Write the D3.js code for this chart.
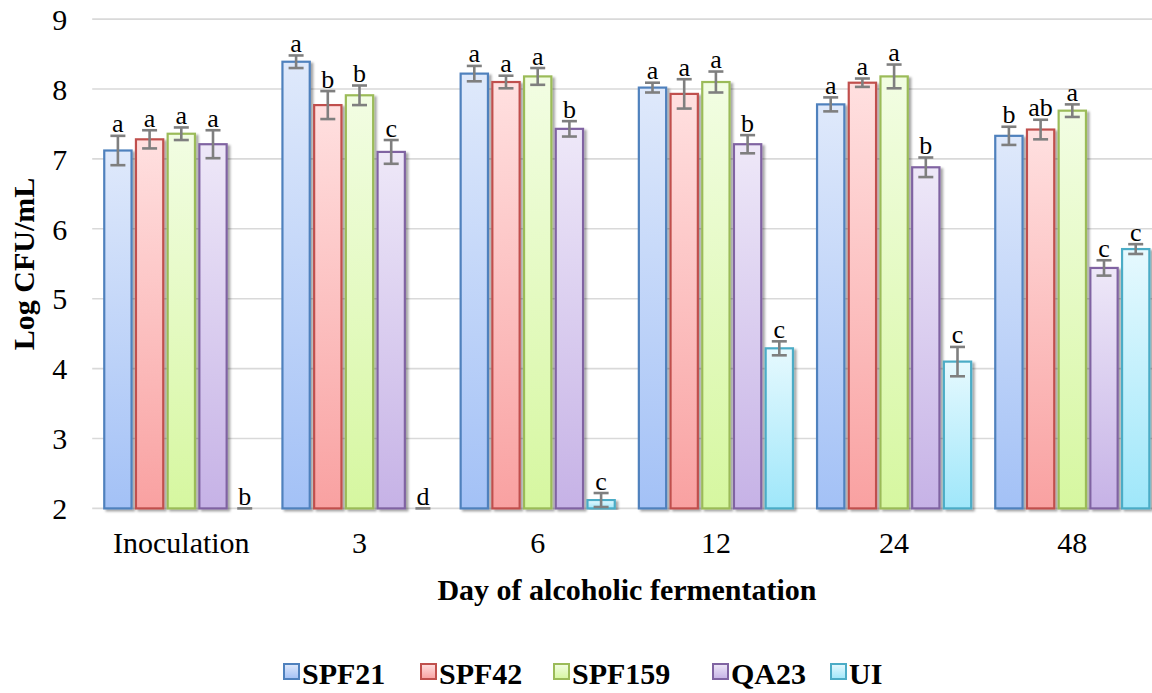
<!DOCTYPE html>
<html>
<head>
<meta charset="utf-8">
<script src="https://cdn.jsdelivr.net/npm/d3@7"></script>
<style>
  html, body { margin: 0; padding: 0; background: #fff; }
  svg { display: block; }
  text { font-family: "Liberation Serif", "Times New Roman", serif; fill: #000; }
</style>
</head>
<body>
<svg id="chart" width="1152" height="693"></svg>
<script>
// Days of fermentation shown on the x axis
const categories = ["Inoculation", "3", "6", "12", "24", "48"];
const seriesNames = ["SPF21", "SPF42", "SPF159", "QA23", "UI"];

// Mean population (Log CFU/mL) per strain and day
const SPF21  = [7.12, 8.39, 8.22, 8.02, 7.78, 7.33];
const SPF42  = [7.28, 7.77, 8.10, 7.93, 8.09, 7.42];
const SPF159 = [7.36, 7.91, 8.18, 8.10, 8.18, 7.69];
const QA23   = [7.21, 7.10, 7.43, 7.21, 6.88, 5.44];
const UI     = [2.00, 2.00, 2.12, 4.29, 4.10, 5.71];

// Standard deviations
const SPF21_sd  = [0.21, 0.09, 0.11, 0.07, 0.10, 0.13];
const SPF42_sd  = [0.13, 0.20, 0.09, 0.21, 0.06, 0.14];
const SPF159_sd = [0.09, 0.14, 0.12, 0.15, 0.17, 0.09];
const QA23_sd   = [0.20, 0.17, 0.11, 0.13, 0.14, 0.11];
const UI_sd     = [0.00, 0.00, 0.10, 0.10, 0.21, 0.07];

// Significance letters
const SPF21_sig  = ["a", "a", "a", "a", "a", "b"];
const SPF42_sig  = ["a", "b", "a", "a", "a", "ab"];
const SPF159_sig = ["a", "b", "a", "a", "a", "a"];
const QA23_sig   = ["a", "c", "b", "b", "b", "c"];
const UI_sig     = ["b", "d", "c", "c", "c", "c"];

const yTicks = [2, 3, 4, 5, 6, 7, 8, 9];

const values = [SPF21, SPF42, SPF159, QA23, UI];
const sds = [SPF21_sd, SPF42_sd, SPF159_sd, QA23_sd, UI_sd];
const sigs = [SPF21_sig, SPF42_sig, SPF159_sig, QA23_sig, UI_sig];

const styles = {
  SPF21:  { stroke: "#4f81bd", top: "#dfe9fb", bottom: "#a3c1f6" },
  SPF42:  { stroke: "#c0504d", top: "#ffe0e0", bottom: "#f9a1a1" },
  SPF159: { stroke: "#9bbb59", top: "#f2fde3", bottom: "#d6f7a0" },
  QA23:   { stroke: "#8064a2", top: "#eee8f8", bottom: "#c6b2e6" },
  UI:     { stroke: "#4bacc6", top: "#e6f9fe", bottom: "#9fe7fa" }
};

const svg = d3.select("#chart");
const defs = svg.append("defs");

seriesNames.forEach(s => {
  const g = defs.append("linearGradient")
    .attr("id", "grad-" + s)
    .attr("x1", 0).attr("y1", 0).attr("x2", 0).attr("y2", 1);
  g.append("stop").attr("offset", "0%").attr("stop-color", styles[s].top);
  g.append("stop").attr("offset", "100%").attr("stop-color", styles[s].bottom);
});

const shadow = defs.append("filter").attr("id", "barShadow")
  .attr("x", "-20%").attr("y", "-5%").attr("width", "150%").attr("height", "115%");
shadow.append("feDropShadow")
  .attr("dx", 2.5).attr("dy", 2).attr("stdDeviation", 1.3)
  .attr("flood-color", "#000").attr("flood-opacity", 0.35);

const plotLeft = 92.2, plotRight = 1161.4;
const x0 = d3.scaleBand().domain(categories).range([plotLeft, plotRight]);
const x1 = d3.scaleBand().domain(seriesNames).range([0, x0.bandwidth()])
  .paddingInner(0.139).paddingOuter(0.38);
const y = d3.scaleLinear().domain([2, 9]).range([508.4, 19.1]);

// Horizontal gridlines
svg.append("g").selectAll("line").data(yTicks).join("line")
  .attr("x1", plotLeft).attr("x2", 1152)
  .attr("y1", d => y(d)).attr("y2", d => y(d))
  .attr("stroke", "#d9d9d9").attr("stroke-width", 1.6);

// Y axis tick labels
const yAxis = d3.axisLeft(y).tickValues(yTicks).tickSize(0).tickPadding(0).tickFormat(d3.format("d"));
const yg = svg.append("g").attr("transform", `translate(${plotLeft - 25},0)`).call(yAxis);
yg.select(".domain").remove();
yg.selectAll("text").attr("font-size", 30).attr("font-family", "Liberation Serif").attr("fill", "#000")
  .attr("dy", "0.34em");

// X axis category labels
const xAxis = d3.axisBottom(x0).tickSize(0).tickPadding(0);
const xg = svg.append("g").attr("transform", `translate(0,527)`).call(xAxis);
xg.select(".domain").remove();
xg.selectAll("text").attr("font-size", 30).attr("font-family", "Liberation Serif").attr("fill", "#000")
  .attr("dy", "0.85em");

// Bars
const groups = svg.append("g").selectAll("g").data(categories).join("g")
  .attr("transform", d => `translate(${x0(d)},0)`);

const cells = [];
categories.forEach((c, ci) => {
  seriesNames.forEach((s, si) => {
    cells.push({ cat: c, ci, s, v: values[si][ci], sd: sds[si][ci], sig: sigs[si][ci] });
  });
});

const barLayer = svg.append("g");
barLayer.selectAll("rect").data(cells.filter(d => d.v > 2)).join("rect")
  .attr("x", d => x0(d.cat) + x1(d.s))
  .attr("y", d => y(d.v))
  .attr("width", x1.bandwidth())
  .attr("height", d => y(2) - y(d.v))
  .attr("fill", d => `url(#grad-${d.s})`)
  .attr("stroke", d => styles[d.s].stroke)
  .attr("stroke-width", 2.2)
  .attr("filter", "url(#barShadow)");

// Error bars
const capHalf = 7.5;
const err = svg.append("g").attr("stroke", "#7f7f7f").attr("stroke-width", 2.6);
cells.forEach(d => {
  const cx = x0(d.cat) + x1(d.s) + x1.bandwidth() / 2;
  const yTop = y(d.v + d.sd), yBot = y(Math.max(2, d.v - d.sd));
  if (d.sd > 0) {
    err.append("line").attr("x1", cx).attr("x2", cx).attr("y1", yTop).attr("y2", yBot);
  }
  err.append("line").attr("x1", cx - capHalf).attr("x2", cx + capHalf).attr("y1", yTop).attr("y2", yTop);
  if (d.sd > 0 && d.v - d.sd > 2) {
    err.append("line").attr("x1", cx - capHalf).attr("x2", cx + capHalf).attr("y1", yBot).attr("y2", yBot);
  }
});

// Significance letters
svg.append("g").selectAll("text").data(cells).join("text")
  .attr("x", d => x0(d.cat) + x1(d.s) + x1.bandwidth() / 2)
  .attr("y", d => y(d.v + d.sd) - 3.5)
  .attr("text-anchor", "middle")
  .attr("font-size", 26)
  .text(d => d.sig);

// Axis titles
svg.append("text")
  .attr("transform", "translate(34,264) rotate(-90)")
  .attr("text-anchor", "middle")
  .attr("font-size", 30).attr("font-weight", "bold")
  .text("Log CFU/mL");

svg.append("text")
  .attr("x", 627).attr("y", 600)
  .attr("text-anchor", "middle")
  .attr("font-size", 30).attr("font-weight", "bold")
  .text("Day of alcoholic fermentation");

// Legend
const legendX = [283, 420, 553, 712, 830];
const legend = svg.append("g").selectAll("g").data(seriesNames).join("g")
  .attr("transform", (d, i) => `translate(${legendX[i]},0)`);
legend.append("rect")
  .attr("x", 1).attr("y", 664).attr("width", 15).attr("height", 15)
  .attr("fill", d => `url(#grad-${d})`)
  .attr("stroke", d => styles[d].stroke).attr("stroke-width", 2);
legend.append("text")
  .attr("x", 19).attr("y", 684)
  .attr("font-size", 30).attr("font-weight", "bold")
  .text(d => d);
</script>
</body>
</html>
